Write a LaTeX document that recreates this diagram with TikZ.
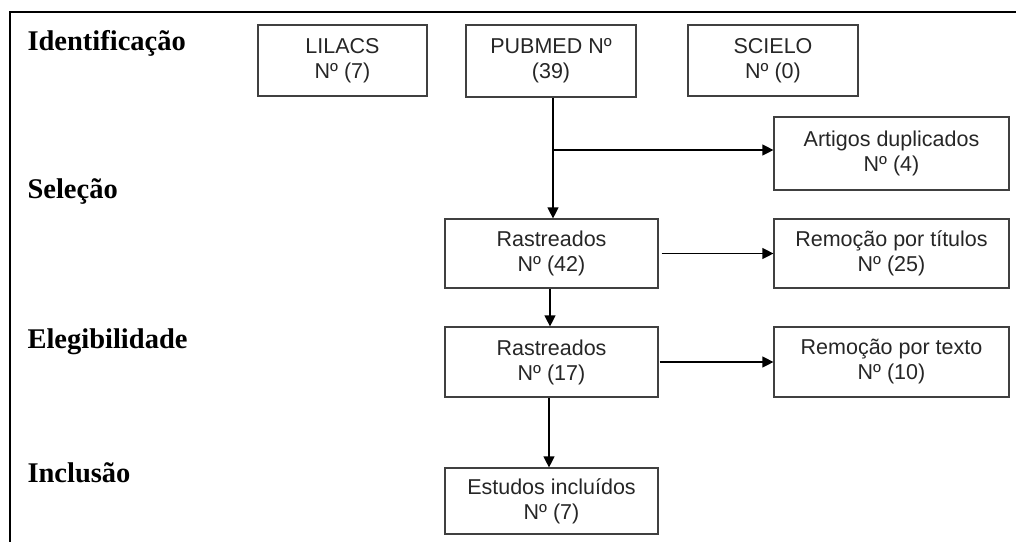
\documentclass[tikz,border=0pt]{standalone}
\usepackage{fontspec}
\setmainfont{Liberation Serif}
\newfontfamily\boxfont{Liberation Sans}
\usetikzlibrary{arrows.meta}
\begin{document}
\begin{tikzpicture}[x=1pt,y=-1pt,
  box/.style={draw=black!75,line width=1.2pt,inner sep=0pt,align=center,
    font=\boxfont\fontsize{21.5}{25}\selectfont,text=black!85},
  stage/.style={anchor=base west,font=\bfseries\fontsize{28.5}{32}\selectfont},
  arr/.style={line width=1.2pt,-{Triangle[length=11pt,width=11pt]}}]
\useasboundingbox (0,0) rectangle (1016,542);
\draw[line width=2pt] (1016,12) -- (10,12) -- (10,542);
\node[stage] (l1) at (24,50) {Identificação};
\node[stage] (l2) at (24,198) {Seleção};
\node[stage] (l3) at (24,348) {Elegibilidade};
\node[stage] (l4) at (24,482) {Inclusão};
\node[box,minimum width=169pt,minimum height=71pt] (lil) at (342.5,60.5) {LILACS\\Nº (7)};
\node[box,minimum width=170pt,minimum height=72pt] (pub) at (551,61) {PUBMED Nº\\(39)};
\node[box,minimum width=170pt,minimum height=71pt] (sci) at (773,60.5) {SCIELO\\Nº (0)};
\node[box,minimum width=235pt,minimum height=73pt] (dup) at (891.5,153.5) {Artigos duplicados\\Nº (4)};
\node[box,minimum width=213pt,minimum height=69pt] (r1) at (551.5,253.5) {Rastreados\\Nº (42)};
\node[box,minimum width=235pt,minimum height=69pt] (tit) at (891.5,253.5) {Remoção por títulos\\Nº (25)};
\node[box,minimum width=213pt,minimum height=70pt] (r2) at (551.5,362) {Rastreados\\Nº (17)};
\node[box,minimum width=235pt,minimum height=70pt] (txt) at (891.5,362) {Remoção por texto\\Nº (10)};
\node[box,minimum width=213pt,minimum height=66pt] (inc) at (551.5,501) {Estudos incluídos\\Nº (7)};
\coordinate (br) at (553,150);
\draw[arr] (pub.south -| br) -- (r1.north -| br);
\draw[arr] (br) -- (dup.west |- br);
\draw[arr] ([xshift=3pt]r1.east) -- (tit.west);
\draw[arr] (r1.south -| 550,0) -- (r2.north -| 550,0);
\draw[arr] ([xshift=1pt]r2.east) -- (txt.west);
\draw[arr] (r2.south -| 549,0) -- (inc.north -| 549,0);
\end{tikzpicture}
\end{document}
